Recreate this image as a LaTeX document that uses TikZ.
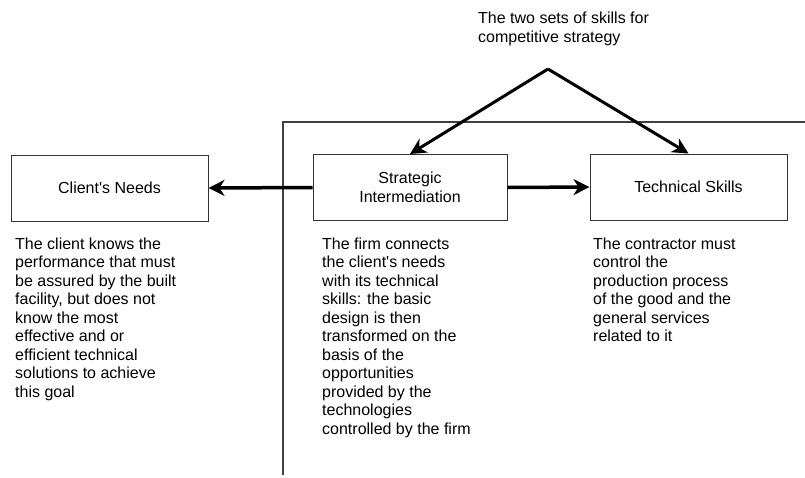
\documentclass[tikz,border=0pt]{standalone}
\usepackage{fontspec}
\setmainfont{Liberation Sans}
\usetikzlibrary{arrows.meta}
\begin{document}
\begin{tikzpicture}[x=1pt,y=-1pt,
  every node/.style={font=\fontsize{16}{18.5}\selectfont},
  box/.style={draw=black!80,line width=1pt,minimum width=#1,minimum height=66pt,inner sep=0pt,align=center},
  para/.style={anchor=north west,inner sep=0pt,align=left},
  link/.style={line width=3.5pt,-{Stealth[length=16pt,width=16pt,inset=5pt]}},
  frame/.style={draw=black!75,line width=1.3pt}]
\useasboundingbox (0,0) rectangle (805,477);
% enclosing frame
\draw[frame] (283,475) -- (283,122) -- (805,122);
% boxes
\node[box=197pt] (client) at (109.5,188) {Client\textquotesingle s Needs};
\node[box=194pt] (strat) at (410,187.5) {Strategic\\Intermediation};
\node[box=197pt] (tech) at (688.5,187) {Technical Skills};
% heading and its two arrows
\node[para] (title) at (478,12) {The two sets of skills for\\competitive strategy};
\coordinate (apex) at (548,69);
\draw[link,line width=3pt] (apex) -- (strat.north);
\draw[link,line width=3pt] (apex) -- (tech.north);
% horizontal links
\draw[link] (strat.west) -- (client.east);
\draw[link] (strat.east) -- (tech.west);
% descriptions
\node[para] (clienttext) at (15,237.5) {The client knows the\\performance that must\\be assured by the built\\facility, but does not\\know the most\\effective and or\\efficient technical\\solutions to achieve\\this goal};
\node[para] (strattext) at (322,237.5) {The firm connects\\the client\textquotesingle s needs\\with its technical\\skills: the basic\\design is then\\transformed on the\\basis of the\\opportunities\\provided by the\\technologies\\controlled by the firm};
\node[para] (techtext) at (593,237.5) {The contractor must\\control the\\production process\\of the good and the\\general services\\related to it};
\end{tikzpicture}
\end{document}
